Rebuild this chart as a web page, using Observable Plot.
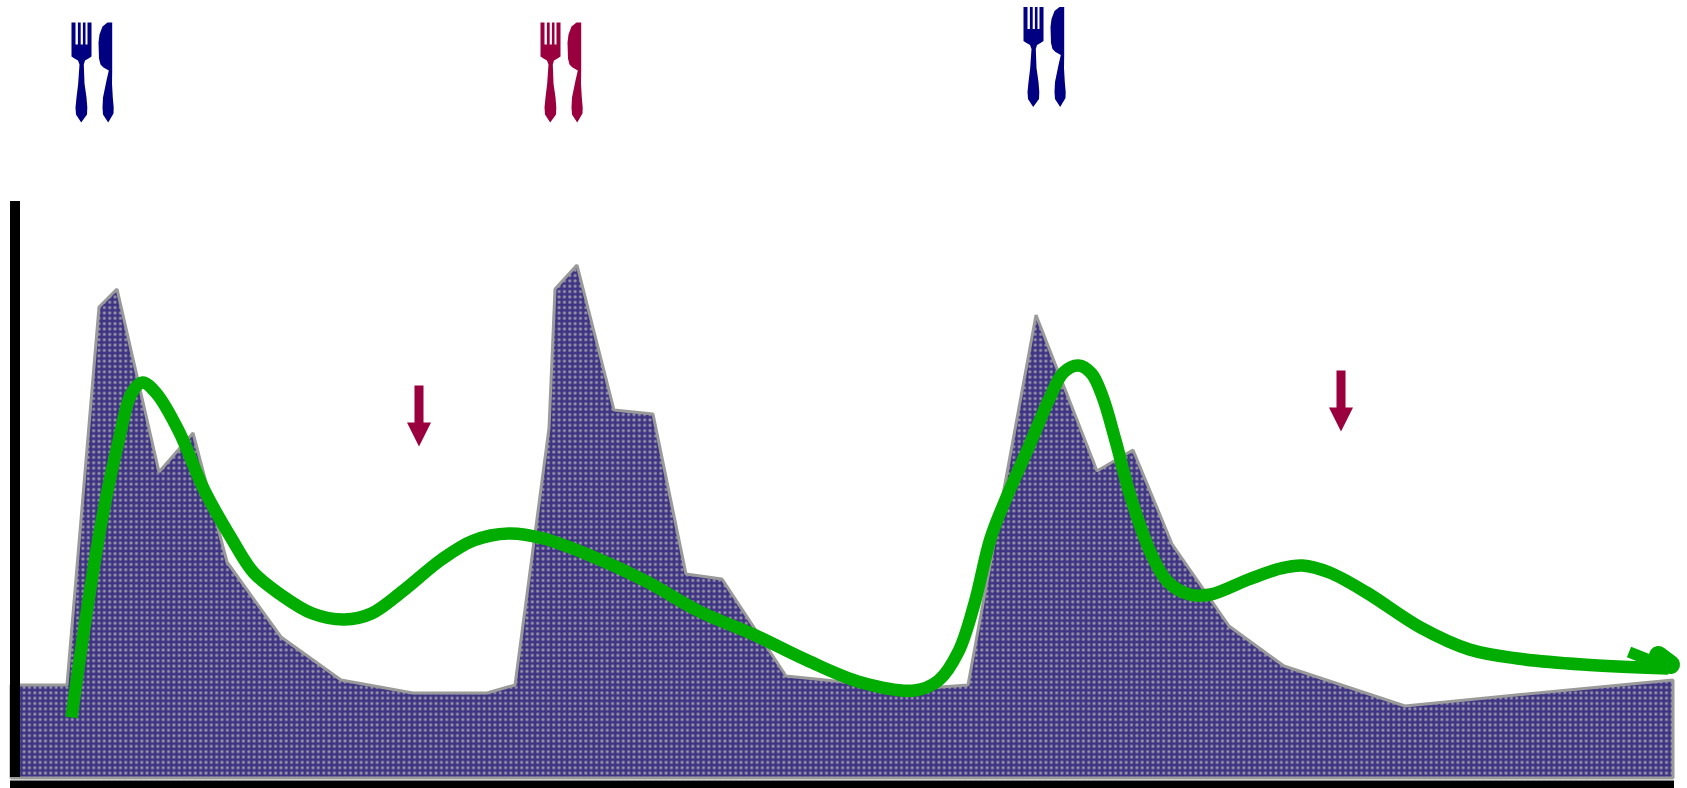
<!DOCTYPE html>
<html>
<head>
<meta charset="utf-8">
<style>html,body{margin:0;padding:0;background:#fff;overflow:hidden}svg{display:block}</style>
<script src="https://cdn.jsdelivr.net/npm/d3@7"></script>
<script src="https://cdn.jsdelivr.net/npm/@observablehq/plot@0.6"></script>
</head>
<body>
<script>
// Stepped profile
const profileX = [11,67,99,117,159,193,227,281,341,413,487,515,549,555,577,614,653,686,722,786,913,968,1036,1097,1133,1172,1229,1284,1405,1516,1673];
const profileV = [93,93,471,489,306,345,216,141,98,85,85,93,350,489,513,368,364,204,199,102,89,93,463,307,328,234,152,112,72,83,98];
// Green smooth curve
const curveX = [71,86,102,118,131,142,156,178,204,231,253,280,312,344,371,403,441,473,508,543,592,646,699,753,807,861,914,938,958,974,990,1006,1028,1049,1063,1078,1091,1102,1115,1130,1151,1167,1189,1210,1248,1280,1302,1329,1366,1420,1469,1517,1582,1668];
const curveV = [61,165,262,337,385,396,385,348,288,240,206,184,165,159,165,188,219,238,245,240,222,197,167,144,118,96,88,98,127,175,240,281,331,380,406,413,405,382,338,282,224,197,184,184,199,210,213,206,186,151,129,120,114,110];
// Arrow barbs at the end of the curve
const barbAX = [1628.5,1660], barbAV = [126.5,114];
const barbBX = [1658,1670], barbBV = [123,114];
// Meals
const mealX = [92,561,1044], mealV = [706,706,721.5];
const mealColor = ["#000080","#99003d","#000080"];
// Down arrows
const downX = [418.5,1340.5], downV = [385,400];

const crimson = "#99003d", green = "#00ad00";

const cutlery = {draw(c, size) {
  const k = Math.sqrt(size / Math.PI) / 10;
  const P = (pts) => { pts.forEach(([x,y],i)=> i ? c.lineTo(x*k,y*k) : c.moveTo(x*k,y*k)); c.closePath(); };
  // fork
  P([[-21,-50],[-17,-50],[-17,-28],[-14.6,-28],[-14.6,-50],[-11.8,-50],[-11.8,-28],[-9.6,-28],[-9.6,-50],[-7,-50],[-7,-28],[-5,-28],[-5,-50],[-1,-50],[-1,-16],[-4,-14],[-7.5,-12],[-8.7,-8],[-8,11],[-6,25],[-5.2,35],[-5.5,42],[-11.3,50],[-16.5,42],[-17,35],[-16,25],[-14.3,11],[-13,-8],[-14.5,-12],[-18,-14],[-21,-16]]);
  // knife
  P([[19.7,-50],[19.7,-2],[19.5,11],[20.3,25],[21.2,35],[21,41],[15.7,50],[10.5,42],[10,35],[10.5,25],[14,8],[16.3,-2],[11,-5],[8,-8],[6.5,-14],[6,-30],[7,-38],[10,-46],[15,-50]]);
}};
const downArrow = {draw(c, size) {
  const k = Math.sqrt(size / Math.PI) / 10;
  [[-4.5,-8],[4.5,-8],[4.5,29],[12,29],[0,53],[-12,29],[-4.5,29]].forEach(([x,y],i)=> i ? c.lineTo(x*k,y*k) : c.moveTo(x*k,y*k));
  c.closePath();
}};

const idx = a => a.map((_, i) => i);
const plot = Plot.plot({
  width: 1687, height: 788,
  margin: 0,
  x: {domain: [0, 1687], range: [0, 1687], axis: null},
  y: {domain: [-10, 778], range: [788, 0], axis: null},
  color: {type: "identity"},
  marks: [
    Plot.areaY(idx(profileX), {x: i => profileX[i], y: i => profileV[i], fill: "url(#dots)", stroke: "#9a9a9a", strokeWidth: 3, strokeLinejoin: "miter"}),
    Plot.ruleX([14.5], {y1: 1, y2: 577, stroke: "#000", strokeWidth: 10}),
    Plot.ruleY([-6], {x1: 10, x2: 1674, stroke: "#000", strokeWidth: 8}),
    Plot.line(idx(curveX), {x: i => curveX[i], y: i => curveV[i], stroke: green, strokeWidth: 12.5, curve: "catmull-rom", strokeLinejoin: "round", strokeLinecap: "butt"}),
    Plot.line(idx(barbAX), {x: i => barbAX[i], y: i => barbAV[i], stroke: green, strokeWidth: 11.5, strokeLinecap: "butt"}),
    Plot.line(idx(barbBX), {x: i => barbBX[i], y: i => barbBV[i], stroke: green, strokeWidth: 19, strokeLinecap: "round"}),
    Plot.dot(idx(mealX), {x: i => mealX[i], y: i => mealV[i], r: 10, symbol: cutlery, fill: i => mealColor[i], stroke: "none"}),
    Plot.dot(idx(downX), {x: i => downX[i], y: i => downV[i], r: 10, symbol: downArrow, fill: crimson, stroke: "none"})
  ]
});
const ns = "http://www.w3.org/2000/svg";
const defs = document.createElementNS(ns, "defs");
defs.innerHTML = `<radialGradient id="soft"><stop offset="0" stop-color="#a8a8ac"/><stop offset="0.5" stop-color="#8a87a2"/><stop offset="1" stop-color="#3f3484"/></radialGradient>
<pattern id="dots" patternUnits="userSpaceOnUse" width="5.35" height="5.35">
<rect width="5.35" height="5.35" fill="#3f3484"/>
<circle cx="2.67" cy="2.67" r="2.15" fill="url(#soft)"/>
</pattern>`;
plot.insertBefore(defs, plot.firstChild);
plot.style.background = "#fff";
document.body.appendChild(plot);
</script>
</body>
</html>
